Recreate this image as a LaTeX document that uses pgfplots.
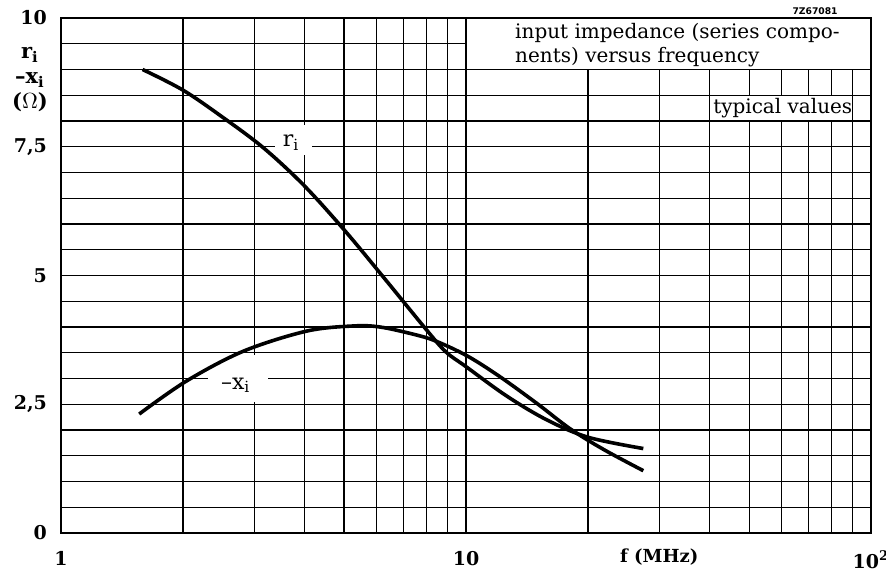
\documentclass[border=0pt]{standalone}
\usepackage{fontspec}
\setmainfont{DejaVu Serif}
\setsansfont{DejaVu Sans}
\usepackage{pgfplots}
\pgfplotsset{compat=1.18}

% r_i : series resistance, -x_i : series reactance (ohm) versus frequency (MHz)
\pgfplotstableread{
f     r
1.59  9.00
2.00  8.60
2.51  8.07
3.16  7.48
3.98  6.75
5.01  5.88
6.31  4.93
7.94  3.97
8.91  3.52
10.0  3.23
12.6  2.66
15.8  2.20
20.0  1.86
27.4  1.64
}\rdata

\pgfplotstableread{
f     x
1.56  2.31
2.04  2.95
2.82  3.53
4.04  3.92
5.27  4.02
6.13  4.00
7.41  3.86
8.40  3.73
10.06 3.44
12.1  3.04
15.0  2.51
18.1  2.02
22.0  1.61
27.4  1.21
}\xdata

\begin{document}
\begin{tikzpicture}
\path[use as bounding box] (-30.5pt,-22pt) rectangle (412.5pt,266.5pt);
\begin{axis}[
  at={(0,0)}, anchor=south west,
  scale only axis, width=405pt, height=257.5pt,
  xmode=log, xmin=1, xmax=100, ymin=0, ymax=10,
  clip=false,
  xtick={1,10,100},
  xticklabels={1,10,{10\textsuperscript{2}}},
  minor xtick={2,3,4,5,6,7,8,9,20,30,40,50,60,70,80,90},
  ytick={0,2.5,5,7.5,10},
  yticklabels={0,{2,5},5,{7,5},10},
  minor ytick={0.5,1,1.5,2,3,3.5,4,4.5,5.5,6,6.5,7,8,8.5,9,9.5},
  grid=both,
  major grid style={black, line width=0.6pt},
  minor grid style={black, line width=0.6pt},
  major tick length=0pt, minor tick length=0pt,
  axis line style={line width=1.1pt},
  tick label style={font=\fontsize{9.5}{11}\selectfont\bfseries},
  xticklabel style={yshift=-5.5pt},
  yticklabel style={xshift=-3.5pt},
]
% title panel and note panel
\filldraw[fill=white, draw=black, line width=0.9pt] (axis cs:10,9) rectangle (axis cs:100,10);
\filldraw[fill=white, draw=black, line width=0.6pt] (axis cs:40,8) rectangle (axis cs:90,8.5);
% gaps in the grid behind the curve labels
\fill[white] (axis cs:3.38,7.34) rectangle (axis cs:4.17,7.92);
\fill[white] (axis cs:2.31,2.55) rectangle (axis cs:3.24,3.45);

\addplot[black, line width=1.8pt, smooth, tension=0.55] table[x=f, y=r] {\rdata};
\addplot[black, line width=1.8pt, smooth, tension=0.55] table[x=f, y=x] {\xdata};

\node[anchor=center, font=\fontsize{11}{12}\selectfont] at (axis cs:3.70,7.58) {r\textsubscript{i}};
\node[anchor=center, font=\fontsize{11}{12}\selectfont] at (axis cs:2.70,2.87) {\textendash x\textsubscript{i}};

\node[anchor=base west, inner sep=0pt, font=\fontsize{10}{12}\selectfont] at (axis cs:13.2,9.61) {input impedance (series compo-};
\node[anchor=base west, inner sep=0pt, font=\fontsize{10}{12}\selectfont] at (axis cs:13.2,9.14) {nents) versus frequency};
\node[anchor=base west, inner sep=0pt, xshift=1.5pt, font=\fontsize{10}{12}\selectfont] at (axis cs:40,8.14) {typical values};

\node[anchor=south east, inner sep=0pt, xshift=-16.5pt, yshift=1.5pt, font=\fontsize{4.6}{5}\selectfont\sffamily\bfseries] at (axis cs:100,10) {7Z67081};

\node[align=center, xshift=-15.5pt, font=\fontsize{10.5}{12.5}\selectfont\bfseries] at (axis cs:1,8.80) {r\textsubscript{i}\\\textendash x\textsubscript{i}\\($\Omega$)};

\node[anchor=center, yshift=-12pt, font=\fontsize{9}{11}\selectfont\bfseries] at (axis cs:30,0) {f (MHz)};
\end{axis}
\end{tikzpicture}
\end{document}
